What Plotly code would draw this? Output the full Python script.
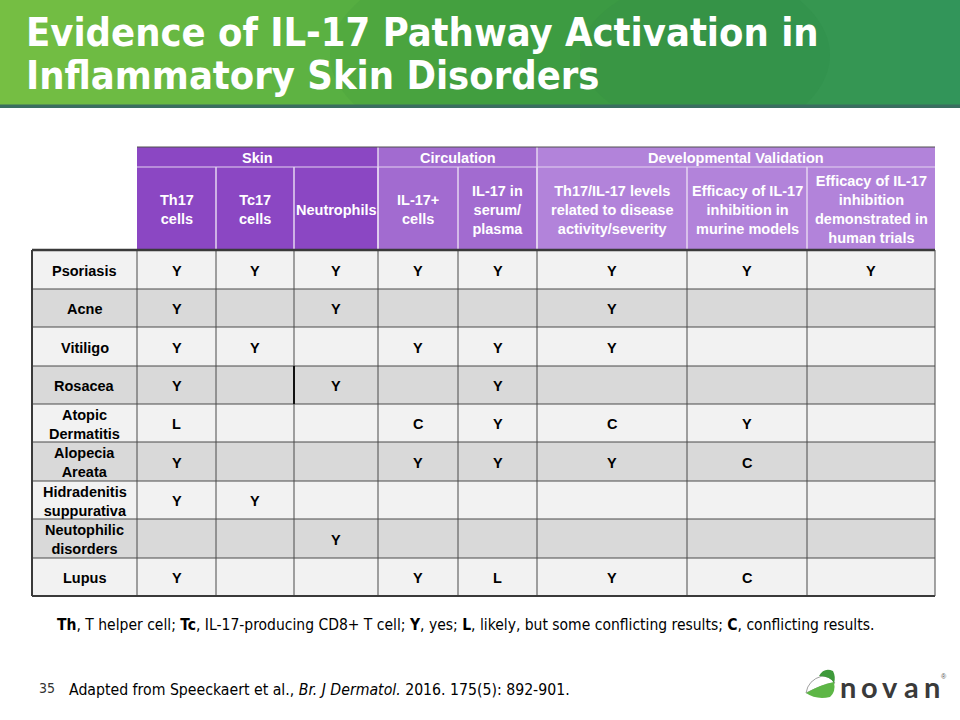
import plotly.graph_objects as go

# ---------------- data ----------------
conditions = ["Psoriasis", "Acne", "Vitiligo", "Rosacea", "Atopic<br>Dermatitis",
              "Alopecia<br>Areata", "Hidradenitis<br>suppurativa", "Neutophilic<br>disorders", "Lupus"]
group_names = ["Skin", "Circulation", "Developmental Validation"]
group_spans = [3, 2, 3]
column_labels = ["Th17<br>cells", "Tc17<br>cells", "Neutrophils", "IL-17+<br>cells",
                 "IL-17 in<br>serum/<br>plasma",
                 "Th17/IL-17 levels<br>related to disease<br>activity/severity",
                 "Efficacy of IL-17<br>inhibition in<br>murine models",
                 "Efficacy of IL-17<br>inhibition<br>demonstrated in<br>human trials"]
psoriasis = ["Y", "Y", "Y", "Y", "Y", "Y", "Y", "Y"]
acne = ["Y", "", "Y", "", "", "Y", "", ""]
vitiligo = ["Y", "Y", "", "Y", "Y", "Y", "", ""]
rosacea = ["Y", "", "Y", "", "Y", "", "", ""]
atopic_dermatitis = ["L", "", "", "C", "Y", "C", "Y", ""]
alopecia_areata = ["Y", "", "", "Y", "Y", "Y", "C", ""]
hidradenitis = ["Y", "Y", "", "", "", "", "", ""]
neutrophilic = ["", "", "Y", "", "", "", "", ""]
lupus = ["Y", "", "", "Y", "L", "Y", "C", ""]
table_values = [psoriasis, acne, vitiligo, rosacea, atopic_dermatitis,
                alopecia_areata, hidradenitis, neutrophilic, lupus]

title_lines = ["Evidence of IL-17 Pathway Activation in", "Inflammatory Skin Disorders"]
footnote = ("<b>Th</b>, T helper cell; <b>Tc</b>, IL-17-producing CD8+ T cell; <b>Y</b>, yes; "
            "<b>L</b>, likely, but some conflicting results; <b>C</b>, conflicting results.")
slide_number = "35"
source = "Adapted from Speeckaert et al., <i>Br. J Dermatol.</i> 2016. 175(5): 892-901."
logo_text = "novan"

# ---------------- layout constants ----------------
col_edges = [32, 137, 216, 294, 378, 458, 537, 687, 807, 935]
group_top, group_bottom, header_bottom = 147, 167, 250
row_edges = [250, 289, 327, 366, 404, 442, 481, 519, 558, 596]
group_colors = ["#8B47C3", "#A26BD0", "#B283DA"]
row_fill = ["#F2F2F2", "#D9D9D9"]
ARIAL = "Arial, Liberation Sans, sans-serif"
NARROW = "Arial Narrow, DejaVu Sans Condensed, sans-serif"
TABLE_FONT = 14.5

shapes = []
annotations = []


def lerp(c1, c2, t):
    return tuple(round(a + (b - a) * t) for a, b in zip(c1, c2))


# title bar gradient
stops = [(0.0, (118, 191, 67)), (0.3, (95, 180, 66)), (0.5, (68, 162, 64)),
         (0.75, (58, 154, 74)), (1.0, (52, 152, 92))]
n_strips = 96
for i in range(n_strips):
    t = (i + 0.5) / n_strips
    for j in range(len(stops) - 1):
        if stops[j][0] <= t <= stops[j + 1][0]:
            tt = (t - stops[j][0]) / (stops[j + 1][0] - stops[j][0])
            c = lerp(stops[j][1], stops[j + 1][1], tt)
            break
    x0 = 960 * i / n_strips
    shapes.append(dict(type="rect", x0=x0, x1=x0 + 960 / n_strips + 0.6, y0=0, y1=105,
                       fillcolor="rgb(%d,%d,%d)" % c, line_width=0, layer="below"))
# subtle ellipses on title bar
shapes.append(dict(type="circle", x0=330, x1=830, y0=-60, y1=170, layer="below",
                   fillcolor="rgba(30,110,50,0.08)", line_width=0))
shapes.append(dict(type="circle", x0=580, x1=1010, y0=-40, y1=150, layer="below",
                   fillcolor="rgba(30,110,60,0.06)", line_width=0))
shapes.append(dict(type="rect", x0=0, x1=960, y0=105, y1=180, fillcolor="white", line_width=0,
                   layer="below"))
shapes.append(dict(type="rect", x0=0, x1=960, y0=104.5, y1=108, fillcolor="#3A6E60", line_width=0))

annotations.append(dict(x=24, y=32, text="<b>" + title_lines[0] + "</b>", showarrow=False,
                        xanchor="left", yanchor="middle",
                        font=dict(family=NARROW, size=39.5, color="white")))
annotations.append(dict(x=24, y=75, text="<b>" + title_lines[1] + "</b>", showarrow=False,
                        xanchor="left", yanchor="middle",
                        font=dict(family=NARROW, size=39.5, color="white")))

# header
start = 1
for g, (name, span) in enumerate(zip(group_names, group_spans)):
    x0, x1 = col_edges[start], col_edges[start + span]
    shapes.append(dict(type="rect", x0=x0, x1=x1, y0=group_top, y1=header_bottom,
                       fillcolor=group_colors[g], line_width=0))
    annotations.append(dict(x=(x0 + x1) / 2, y=(group_top + group_bottom) / 2 + 1,
                            text="<b>" + name + "</b>", showarrow=False,
                            font=dict(family=ARIAL, size=TABLE_FONT, color="white")))
    for k in range(span):
        c = start + k
        annotations.append(dict(x=(col_edges[c] + col_edges[c + 1]) / 2,
                                y=(group_bottom + header_bottom) / 2 + 1,
                                text="<b>" + column_labels[c - 1] + "</b>", showarrow=False,
                                font=dict(family=ARIAL, size=TABLE_FONT, color="white")))
    start += span
# header dividers
shapes.append(dict(type="line", x0=col_edges[1], x1=col_edges[-1], y0=group_bottom, y1=group_bottom,
                   line=dict(color="#E4D4F0", width=1)))
start = 1
for span in group_spans[:-1]:
    start += span
    shapes.append(dict(type="line", x0=col_edges[start], x1=col_edges[start], y0=group_top,
                       y1=header_bottom, line=dict(color="#E4D4F0", width=1.5)))
for c in range(2, len(col_edges) - 1):
    shapes.append(dict(type="line", x0=col_edges[c], x1=col_edges[c], y0=group_bottom,
                       y1=header_bottom, line=dict(color="#E4D4F0", width=1.5)))
shapes.append(dict(type="line", x0=col_edges[1], x1=col_edges[-1], y0=group_top, y1=group_top,
                   line=dict(color="#505050", width=1)))

# body
for r, (cond, vals) in enumerate(zip(conditions, table_values)):
    y0, y1 = row_edges[r], row_edges[r + 1]
    shapes.append(dict(type="rect", x0=col_edges[0], x1=col_edges[-1], y0=y0, y1=y1,
                       fillcolor=row_fill[r % 2], line_width=0))
    annotations.append(dict(x=(col_edges[0] + col_edges[1]) / 2, y=(y0 + y1) / 2 + 1,
                            text="<b>" + cond + "</b>", showarrow=False,
                            font=dict(family=ARIAL, size=TABLE_FONT, color="black")))
    for c, v in enumerate(vals):
        if v:
            annotations.append(dict(x=(col_edges[c + 1] + col_edges[c + 2]) / 2,
                                    y=(y0 + y1) / 2 + 1, text="<b>" + v + "</b>",
                                    showarrow=False,
                                    font=dict(family=ARIAL, size=TABLE_FONT, color="black")))
# grid lines
for e in row_edges[1:-1]:
    shapes.append(dict(type="line", x0=col_edges[0], x1=col_edges[-1], y0=e, y1=e,
                       line=dict(color="#4A4A4A", width=1)))
for e in col_edges[1:-1]:
    shapes.append(dict(type="line", x0=e, x1=e, y0=row_edges[0], y1=row_edges[-1],
                       line=dict(color="#4A4A4A", width=1)))
# darker divider in the Rosacea row (as in the source slide)
shapes.append(dict(type="line", x0=col_edges[3], x1=col_edges[3], y0=row_edges[3], y1=row_edges[4],
                   line=dict(color="#111111", width=2)))
shapes.append(dict(type="line", x0=col_edges[0], x1=col_edges[-1], y0=row_edges[0], y1=row_edges[0],
                   line=dict(color="#3A3A3A", width=2.5)))
shapes.append(dict(type="line", x0=col_edges[0], x1=col_edges[-1], y0=row_edges[-1],
                   y1=row_edges[-1], line=dict(color="#3A3A3A", width=2)))
shapes.append(dict(type="line", x0=col_edges[0], x1=col_edges[0], y0=row_edges[0],
                   y1=row_edges[-1], line=dict(color="#3A3A3A", width=2)))
shapes.append(dict(type="line", x0=col_edges[-1], x1=col_edges[-1], y0=row_edges[0],
                   y1=row_edges[-1], line=dict(color="#4A4A4A", width=1)))

# footnotes
annotations.append(dict(x=55, y=625, text=footnote, showarrow=False, xanchor="left",
                        font=dict(family=NARROW, size=15.5, color="black")))
annotations.append(dict(x=37, y=688, text=slide_number, showarrow=False, xanchor="left",
                        font=dict(family=NARROW, size=14, color="#333333")))
annotations.append(dict(x=67, y=689, text=source, showarrow=False, xanchor="left",
                        font=dict(family=NARROW, size=15.7, color="black")))

# logo
shapes.append(dict(type="path", path="M 806 693 Q 808 680 822 676 Q 830 676 835 683 Q 826 683 806 693 Z",
                   fillcolor="white", line=dict(color="#A0A0A0", width=1)))
shapes.append(dict(type="path", path="M 806 693 Q 816 700 830 697 Q 836 692 834 682 Q 822 684 806 693 Z",
                   fillcolor="#5DB646", line_width=0))
shapes.append(dict(type="path", path="M 819 676 Q 824 667 833 671 Q 836 677 834 683 Q 830 676 819 676 Z",
                   fillcolor="#3E9A3A", line_width=0))
for i, ch in enumerate(logo_text):
    annotations.append(dict(x=848 + i * 21, y=686, text="<b>" + ch + "</b>", showarrow=False,
                            font=dict(family="Lato, Roboto, sans-serif", size=29, color="#3A3A3A")))
annotations.append(dict(x=944, y=676, text="®", showarrow=False,
                        font=dict(family=ARIAL, size=7, color="#555555")))

fig = go.Figure()
fig.update_layout(
    width=960, height=720, margin=dict(l=0, r=0, t=0, b=0),
    paper_bgcolor="white", plot_bgcolor="white",
    xaxis=dict(range=[0, 960], visible=False, fixedrange=True),
    yaxis=dict(range=[720, 0], visible=False, fixedrange=True),
    shapes=shapes, annotations=annotations, showlegend=False,
)
fig.write_html("out.html", config={"displayModeBar": False},
               post_script="document.body.style.margin='0';")
